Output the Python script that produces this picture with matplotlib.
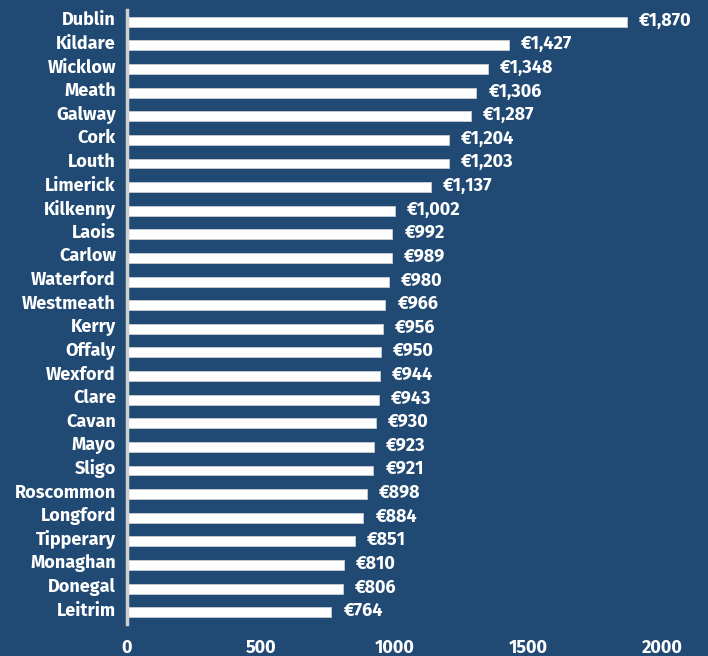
import matplotlib
matplotlib.use("Agg")
import matplotlib.pyplot as plt
import matplotlib.transforms as mtransforms

counties = ["Dublin", "Kildare", "Wicklow", "Meath", "Galway", "Cork", "Louth", "Limerick",
            "Kilkenny", "Laois", "Carlow", "Waterford", "Westmeath", "Kerry", "Offaly", "Wexford",
            "Clare", "Cavan", "Mayo", "Sligo", "Roscommon", "Longford", "Tipperary", "Monaghan",
            "Donegal", "Leitrim"]
values = [1870, 1427, 1348, 1306, 1287, 1204, 1203, 1137, 1002, 992, 989, 980, 966, 956, 950,
          944, 943, 930, 923, 921, 898, 884, 851, 810, 806, 764]
xticks = [0, 500, 1000, 1500, 2000]

bg = "#204a74"
plt.rcParams['font.family'] = ['Fira Sans', 'Noto Sans', 'DejaVu Sans']

fig = plt.figure(figsize=(7.08, 6.56), dpi=100, facecolor=bg)
ax = fig.add_axes([127/708, 1-624/656, (662-127)/708, (624-10)/656])
ax.set_facecolor(bg)

ypos = list(range(len(counties)))
ax.barh(ypos, values, height=0.42, color="white", edgecolor="#c8ccd2", linewidth=0.6)
for y, v in zip(ypos, values):
    ax.text(v + 45, y - 0.05, f"€{v:,}", va="center", ha="left", color="white",
            fontsize=13, fontweight="bold")

ax.set_ylim(25.5, -0.5)
ax.set_xlim(0, 2000)
ax.set_yticks(ypos)
ax.set_yticklabels(counties)
ax.set_xticks(xticks)
ax.set_xticklabels([str(t) for t in xticks])
ax.tick_params(axis="both", length=0, colors="white", labelsize=13)
ax.tick_params(axis="y", pad=8)
ax.tick_params(axis="x", pad=11)
shift = mtransforms.ScaledTranslation(0, 3.5/100, fig.dpi_scale_trans)
for lbl in ax.get_yticklabels():
    lbl.set_fontsize(13)
    lbl.set_transform(lbl.get_transform() + shift)
for lbl in ax.get_xticklabels() + ax.get_yticklabels():
    lbl.set_fontweight("bold")
for s in ["top", "right", "bottom"]:
    ax.spines[s].set_visible(False)
ax.spines["left"].set_color("#d0d0d0")
ax.spines["left"].set_linewidth(2.5)

fig.savefig("out.png", dpi=100, facecolor=bg)
